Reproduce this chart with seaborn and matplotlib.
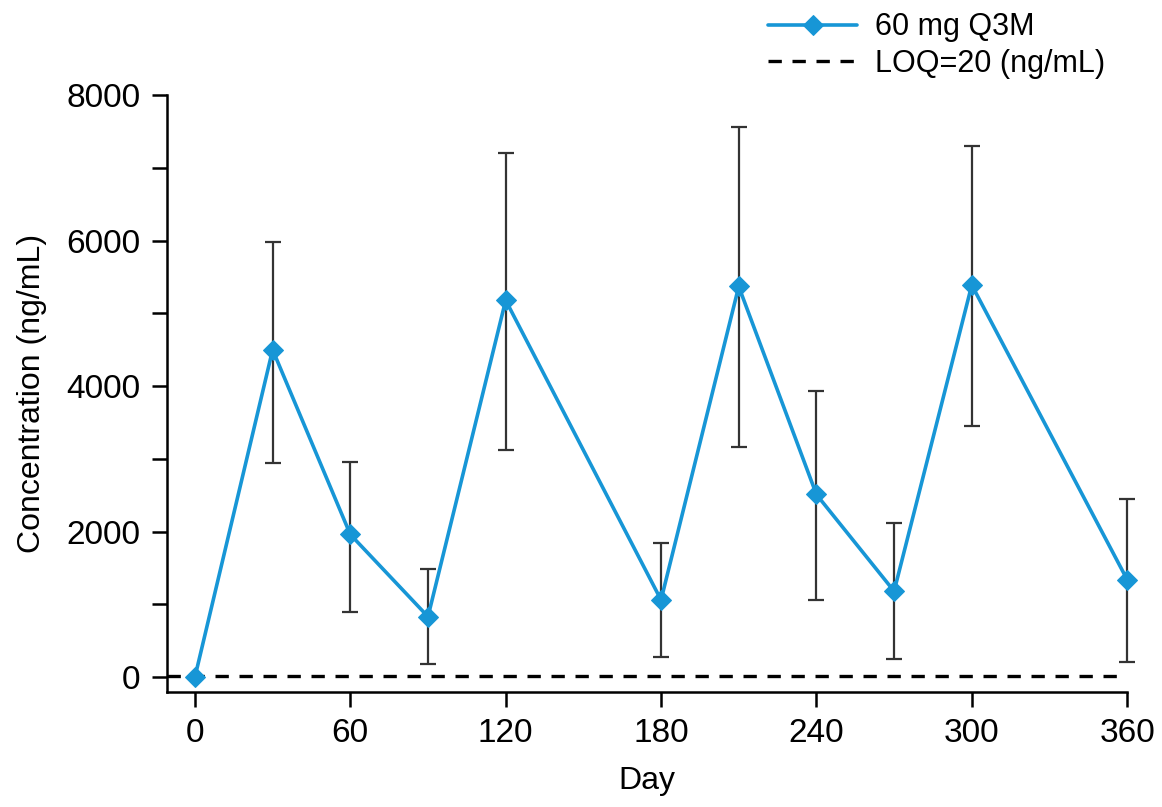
import numpy as np
import pandas as pd
import matplotlib
matplotlib.use("Agg")
import matplotlib.pyplot as plt
import seaborn as sns
from matplotlib.ticker import MultipleLocator

# Data
days = [0, 30, 60, 90, 120, 180, 210, 240, 270, 300, 360]
conc_mean = [0, 4500, 1960, 830, 5180, 1060, 5370, 2510, 1180, 5390, 1340]
conc_upper = [0, 5980, 2960, 1490, 7210, 1840, 7560, 3930, 2120, 7300, 2450]
conc_lower = [0, 2940, 900, 180, 3120, 270, 3160, 1060, 250, 3450, 210]
loq = 20

series_label = "60 mg Q3M"
loq_label = "LOQ=20 (ng/mL)"

df = pd.DataFrame({"Day": days, "Conc": conc_mean})

sns.set_style("ticks")
plt.rcParams['font.family'] = ['Liberation Sans', 'DejaVu Sans']
plt.rcParams['text.color'] = 'black'
plt.rcParams['axes.labelcolor'] = 'black'
plt.rcParams['xtick.color'] = 'black'
plt.rcParams['ytick.color'] = 'black'

blue = "#1796D6"

fig = plt.figure(figsize=(11.62, 8.07), dpi=100)
ax = fig.add_axes([0.1437, 0.1425, 0.8263, 0.7395])

# error bars
yerr = [np.array(conc_mean) - np.array(conc_lower),
        np.array(conc_upper) - np.array(conc_mean)]
eb = ax.errorbar(days, conc_mean, yerr=yerr, fmt="none", ecolor="#333333",
                 elinewidth=1.6, capsize=5.5, capthick=1.6, zorder=2)
for art in eb.lines[1] + eb.lines[2]:
    art.set_clip_on(False)

sns.lineplot(data=df, x="Day", y="Conc", color=blue, marker="D",
             markersize=10, markeredgecolor=blue, linewidth=2.6,
             label=series_label, ax=ax, zorder=3, clip_on=False)

ax.axhline(loq, color="black", linestyle=(0, (4, 3.2)), linewidth=2.4,
           label=loq_label, zorder=1)

ax.set_xlim(-10.8, 360)
ax.set_ylim(-206, 8000)
ax.set_xticks(range(0, 361, 60))
ax.set_yticks(range(0, 8001, 2000))
ax.yaxis.set_minor_locator(MultipleLocator(1000))

sns.despine(ax=ax)
for s in ["left", "bottom"]:
    ax.spines[s].set_linewidth(1.8)
    ax.spines[s].set_color("black")
ax.tick_params(axis="both", which="both", direction="out", length=11,
               width=1.8, color="black", labelsize=24, pad=8)

ax.set_xlabel("Day", fontsize=23, labelpad=12)
ax.set_ylabel("Concentration (ng/mL)", fontsize=23, labelpad=14)

handles, labels = ax.get_legend_handles_labels()
ax.get_legend().remove()
fig.legend(handles, labels, loc="upper left",
           bbox_to_anchor=(756 / 1162, 1 - 0 / 807),
           frameon=False, fontsize=22, handlelength=2.9,
           handletextpad=0.6, labelspacing=0.22, borderaxespad=0)

fig.savefig("out.png", dpi=100)
